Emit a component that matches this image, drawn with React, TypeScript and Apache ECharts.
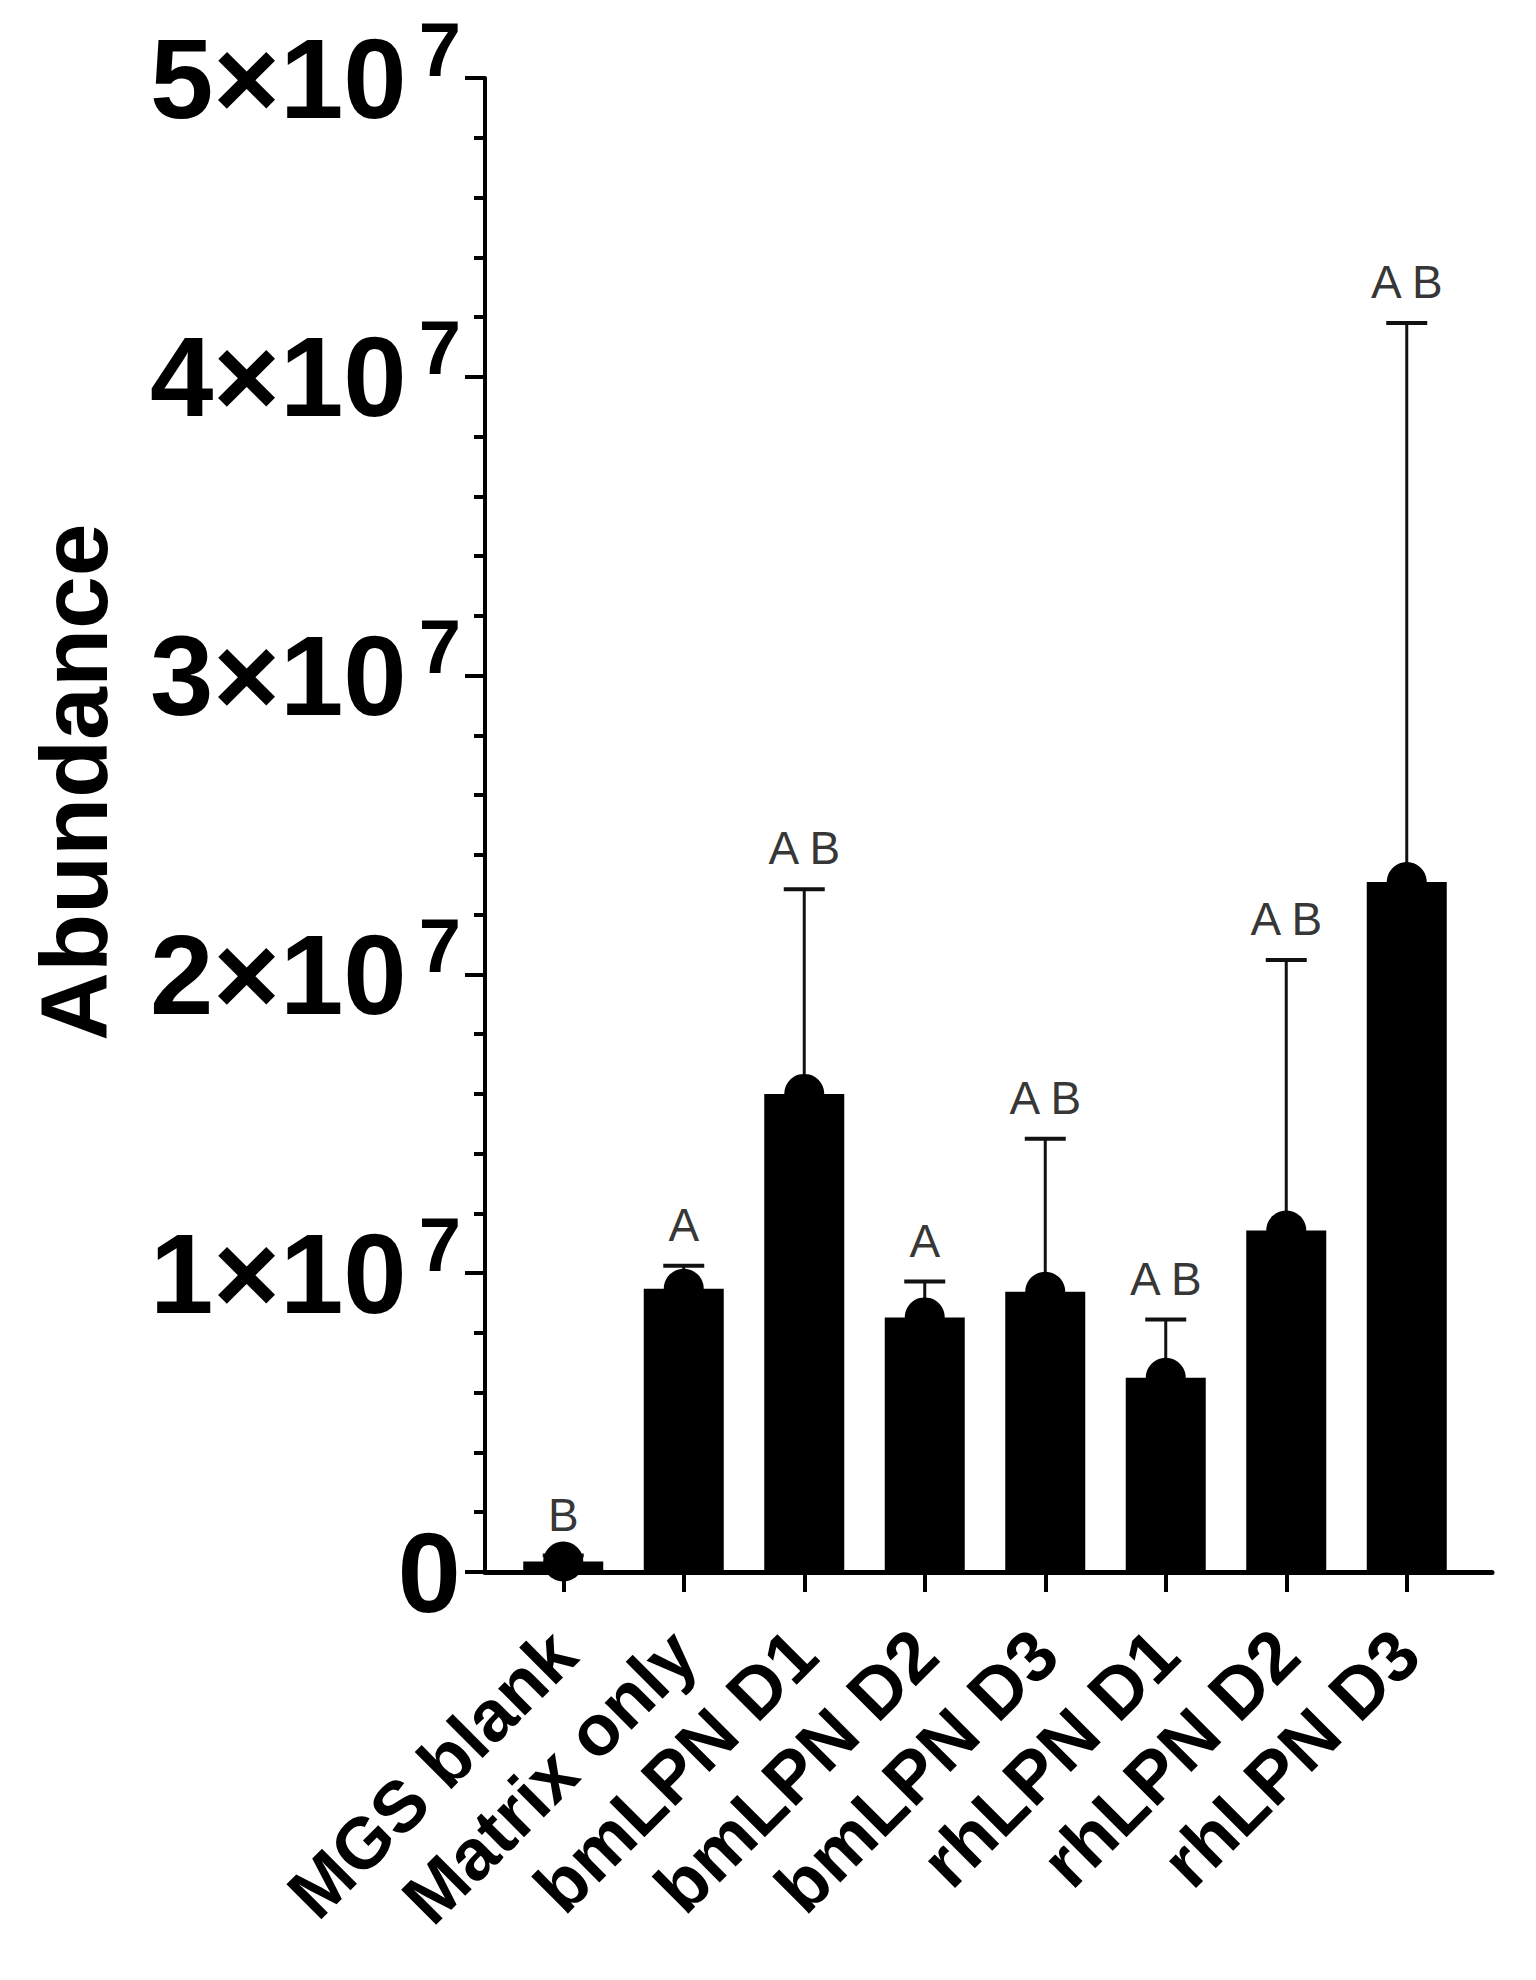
import React, { useEffect, useRef } from "react";
import * as echarts from "echarts";

const categories = [
  "MGS blank",
  "Matrix only",
  "bmLPN D1",
  "bmLPN D2",
  "bmLPN D3",
  "rhLPN D1",
  "rhLPN D2",
  "rhLPN D3",
];
const means = [3.5e5, 9.48e6, 1.6e7, 8.52e6, 9.38e6, 6.5e6, 1.143e7, 2.309e7];
const sds = [2.0e5, 7.7e5, 6.85e6, 1.2e6, 5.12e6, 1.95e6, 9.05e6, 1.871e7];
const letters = ["B", "A", "A B", "A", "A B", "A B", "A B", "A B"];
const yMax = 5e7;
const yStep = 1e7;
const yExponent = 7;

const FONT = "'Liberation Sans', Arial, sans-serif";

export default function App() {
  const ref = useRef<HTMLDivElement>(null);

  useEffect(() => {
    document.body.style.margin = "0";
    if (!ref.current) return;
    const chart = echarts.init(ref.current, null, { renderer: "svg" });

    const option: any = {
      animation: false,
      backgroundColor: "#fff",
      grid: [
        { left: 503, top: 78, width: 964, height: 1494 },
        { left: 485, top: 78, width: 1007, height: 1494 },
      ],
      xAxis: [
        {
          type: "category",
          gridIndex: 0,
          data: categories,
          axisLine: { show: false },
          axisTick: {
            show: true,
            alignWithLabel: true,
            length: 20,
            lineStyle: { width: 4, color: "#000" },
          },
          axisLabel: {
            interval: 0,
            rotate: 45,
            margin: 70,
            fontSize: 72,
            fontWeight: "bold",
            fontFamily: FONT,
            color: "#000",
          },
          splitLine: { show: false },
        },
        {
          type: "value",
          gridIndex: 1,
          min: 0,
          max: 1,
          axisLine: { show: true, lineStyle: { width: 5, color: "#000" } },
          axisTick: { show: false },
          axisLabel: { show: false },
          splitLine: { show: false },
        },
      ],
      yAxis: [
        { type: "value", gridIndex: 0, min: 0, max: yMax, show: false },
        {
          type: "value",
          gridIndex: 1,
          min: 0,
          max: yMax,
          interval: yStep,
          axisLine: { show: true, lineStyle: { width: 4, color: "#000" } },
          axisTick: { show: true, length: 20, lineStyle: { width: 4, color: "#000" } },
          minorTick: { show: true, splitNumber: 5, length: 11, lineStyle: { width: 4, color: "#000" } },
          splitLine: { show: false },
          minorSplitLine: { show: false },
          axisLabel: {
            margin: 24,
            formatter: (v: number) =>
              v === 0 ? "{m|0}" : `{m|${Math.round(v / Math.pow(10, yExponent))}×10}{s|${yExponent}}`,
            rich: {
              m: { fontSize: 114, fontWeight: "bold", fontFamily: FONT, color: "#000", lineHeight: 134 },
              s: {
                fontSize: 76,
                fontWeight: "bold",
                fontFamily: FONT,
                color: "#000",
                verticalAlign: "top",
                padding: [0, 0, 0, 12],
              },
            },
          },
          name: "Abundance",
          nameLocation: "middle",
          nameGap: 364,
          nameTextStyle: {
            fontSize: 95,
            fontWeight: "bold",
            fontFamily: FONT,
            color: "#000",
            padding: [0, 0, 0, 86],
          },
        },
      ],
      series: [
        {
          type: "bar",
          xAxisIndex: 0,
          yAxisIndex: 0,
          data: means,
          barWidth: 80,
          itemStyle: { color: "#000" },
          z: 2,
        },
        {
          type: "custom",
          xAxisIndex: 0,
          yAxisIndex: 0,
          data: categories.map((_, i) => [i, means[i], means[i] + sds[i]]),
          renderItem: (params: any, api: any) => {
            const i = api.value(0);
            const p0 = api.coord([i, api.value(1)]);
            const p1 = api.coord([i, api.value(2)]);
            const hw = 20.5;
            return {
              type: "group",
              children: [
                {
                  type: "line",
                  shape: { x1: p0[0], y1: p0[1], x2: p1[0], y2: p1[1] },
                  style: { stroke: "#111", lineWidth: 3 },
                },
                {
                  type: "line",
                  shape: { x1: p1[0] - hw, y1: p1[1], x2: p1[0] + hw, y2: p1[1] },
                  style: { stroke: "#111", lineWidth: 4 },
                },
              ],
            };
          },
          z: 3,
        },
        {
          type: "scatter",
          xAxisIndex: 0,
          yAxisIndex: 0,
          data: categories.map((_, i) => [i, means[i]]),
          symbol: "circle",
          symbolSize: 40,
          itemStyle: { color: "#000", opacity: 1 },
          z: 4,
        },
        {
          type: "scatter",
          xAxisIndex: 0,
          yAxisIndex: 0,
          data: categories.map((_, i) => [i, means[i] + sds[i]]),
          symbolSize: 0,
          itemStyle: { color: "transparent" },
          label: {
            show: true,
            position: "top",
            distance: 18,
            formatter: (p: any) => letters[p.dataIndex],
            fontSize: 46,
            fontFamily: FONT,
            color: "#000",
          },
          z: 5,
        },
      ],
    };

    chart.setOption(option);
    return () => chart.dispose();
  }, []);

  return <div ref={ref} style={{ width: 1536, height: 1980 }} />;
}
